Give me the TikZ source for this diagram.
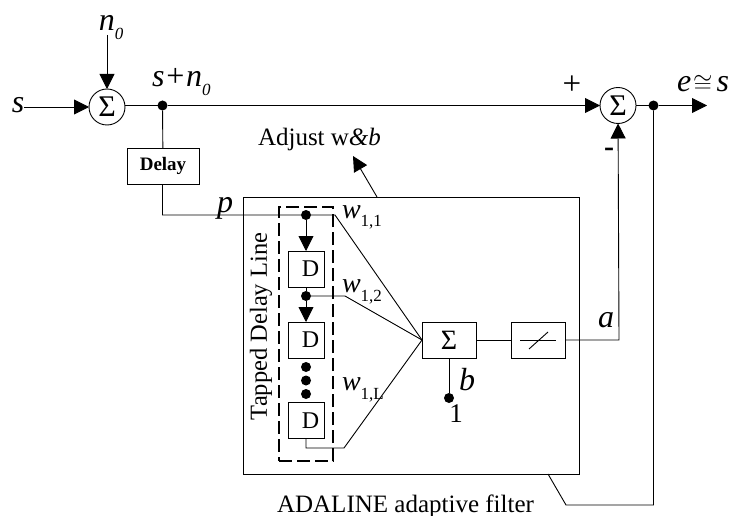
\documentclass[tikz,border=0pt]{standalone}
\usepackage{fontspec}
\setmainfont{Liberation Serif}
\usetikzlibrary{calc, arrows.meta, positioning}
\newcommand{\lowtext}[1]{\raisebox{-9pt}{\fontsize{17}{17}\selectfont #1}}
\newcommand{\setsize}[1]{\fontsize{#1}{#1}\selectfont}

\begin{document}
\begin{tikzpicture}[x=1pt, y=-1pt, line width=0.9pt, >={Triangle[length=15pt,width=15pt]}]
            % Block styles
            \tikzstyle{block} = [rectangle, draw, inner sep=0pt, outer sep=0pt, minimum width=54pt, minimum height=36pt, font=\setsize{24}]
            \tikzstyle{dblock} = [block, minimum width=36pt]
            \tikzstyle{sumnode} = [circle, draw, inner sep=0pt, outer sep=0pt, minimum size=36pt, font=\setsize{30}]
            \tikzstyle{junction} = [circle, fill=black, inner sep=0pt, outer sep=0pt, minimum size=10pt]
            \tikzstyle{label} = [inner sep=0pt, outer sep=0pt]
            \tikzstyle{biglabel} = [label, font=\setsize{32}\itshape]
            \tikzstyle{wlabel} = [label, font=\setsize{28}\itshape, anchor=base west]
            \tikzstyle{textlabel} = [label, font=\setsize{25}]

            \useasboundingbox (0,0) rectangle (731,516);

            % Outer boxes
            \node[draw, inner sep=0pt, outer sep=0pt, minimum width=336pt, minimum height=277pt] (adaline) at (411,335.5) {};
            \node[draw, line width=1.3pt, dash pattern=on 13pt off 5pt, inner sep=0pt, outer sep=0pt, minimum width=54pt, minimum height=254pt] (delay_line) at (306,334) {};

            % Upper row
            \node[biglabel, anchor=base] (s_in) at (18,113) {s};
            \node[sumnode] (sum_in) at (107,107) {Σ};
            \node[junction] (dot_sum) at (162.5,105.5) {};
            \node[sumnode] (sum_out) at (618,105.5) {Σ};
            \node[junction] (dot_err) at (653.5,105.5) {};
            \coordinate (err_end) at (707,105.5);
            \coordinate (n_end) at (107,35);
            \node[biglabel, anchor=base] (n_zero) at (111,31) {n\lowtext{0}};
            \node[biglabel, anchor=base west] (sum_label) at (152,87) {s+n\lowtext{0}};
            \node[biglabel, anchor=base west] (err_label) at (677,92) {e\kern2pt$\cong$\kern4pt s};
            \node[label, font=\setsize{33}] (plus) at (572,85) {+};
            \node[label, font=\setsize{30}\bfseries] (minus) at (609,152) {-};

            % Delay and inner blocks
            \node[block, minimum width=72pt, font=\setsize{19}\bfseries] (delay) at (163,166) {Delay};
            \node[dblock] (d_one) at (306,269) {\hspace{9pt}D};
            \node[dblock] (d_two) at (306,340) {\hspace{9pt}D};
            \node[dblock] (d_three) at (306,420.5) {\hspace{9pt}D};
            \node[block, font=\setsize{28}] (sum_box) at (449,340) {Σ};
            \node[block, right=35pt of sum_box] (limiter) {};
            \coordinate (lim_left) at ($(limiter.center)+(-18,0)$);
            \coordinate (lim_right) at ($(limiter.center)+(18,0)$);
            \coordinate (lim_low) at ($(limiter.center)+(-9,9)$);
            \coordinate (lim_high) at ($(limiter.center)+(10,-8)$);

            % Tapped delay line taps
            \node[junction] (tap_one) at (306,215) {};
            \node[junction] (tap_two) at (306,296) {};
            \node[junction] (dot_a) at (306,367) {};
            \node[junction, below=3.5pt of dot_a] (dot_b) {};
            \node[junction, below=3.5pt of dot_b] (dot_c) {};
            \node[junction] (dot_one) at (449,398) {};
            \coordinate (p_corner) at (162.5,215);
            \coordinate (w_one) at (335,215);
            \coordinate (w_two) at (345,296);
            \coordinate (w_three) at (344,448);
            \coordinate (d_corner) at (306,448);
            \coordinate (a_corner) at (619,340);
            \coordinate (tail_top) at (548,474);
            \coordinate (tail_mid) at (566,505);
            \coordinate (tail_end) at (653.5,505);
            \coordinate (adjust_start) at (377,197);
            \coordinate (adjust_tip) at (353,156);

            % Labels
            \node[biglabel, anchor=base] (p_label) at (225,212) {p};
            \node[biglabel, anchor=base] (a_label) at (606,327) {a};
            \node[biglabel, anchor=base] (b_label) at (467,390) {b};
            \node[label, font=\setsize{27}, anchor=base] (one_label) at (456,422) {1};
            \node[wlabel] (w_one_label) at (342,218) {w\lowtext{\upshape 1,1}};
            \node[wlabel] (w_two_label) at (342,292) {w\lowtext{\upshape 1,2}};
            \node[wlabel] (w_three_label) at (342,390) {w\lowtext{\upshape 1,L}};
            \node[textlabel, anchor=base west] (adjust_label) at (258,146) {Adjust w\textit{\&b}};
            \node[textlabel, anchor=base] (adaline_label) at (405.5,512) {ADALINE adaptive filter};
            \node[textlabel, font=\setsize{24.5}, rotate=90] (line_label) at (261,326.5) {Tapped Delay Line};

            % Connections
            \draw[->] (s_in.east |- sum_in.west) -- (sum_in);
            \draw[->] (n_end) -- (sum_in);
            \draw (sum_in.east |- dot_sum) -- (dot_sum);
            \draw[->] (dot_sum) -- (sum_out);
            \draw (sum_out) -- (dot_err);
            \draw[->] (dot_err) -- (err_end);
            \draw (dot_sum) -- (delay);
            \draw (delay.south -| p_corner) -- (p_corner) -- (tap_one) -- (w_one) -- (sum_box.west);
            \draw[->] (tap_one) -- (d_one);
            \draw (d_one) -- (tap_two);
            \draw[->] (tap_two) -- (d_two);
            \draw (tap_two) -- (w_two) -- (sum_box.west);
            \draw (d_three) -- (d_corner) -- (w_three) -- (sum_box.west);
            \draw (sum_box) -- (dot_one);
            \draw (sum_box) -- (limiter);
            \draw (lim_left) -- (lim_right);
            \draw (lim_low) -- (lim_high);
            \draw[->] (limiter) -- (a_corner) -- (sum_out);
            \draw (tail_top) -- (tail_mid) -- (tail_end) -- (dot_err);
            \draw[->] (adjust_start) -- (adjust_tip);
        \end{tikzpicture}
\end{document}
